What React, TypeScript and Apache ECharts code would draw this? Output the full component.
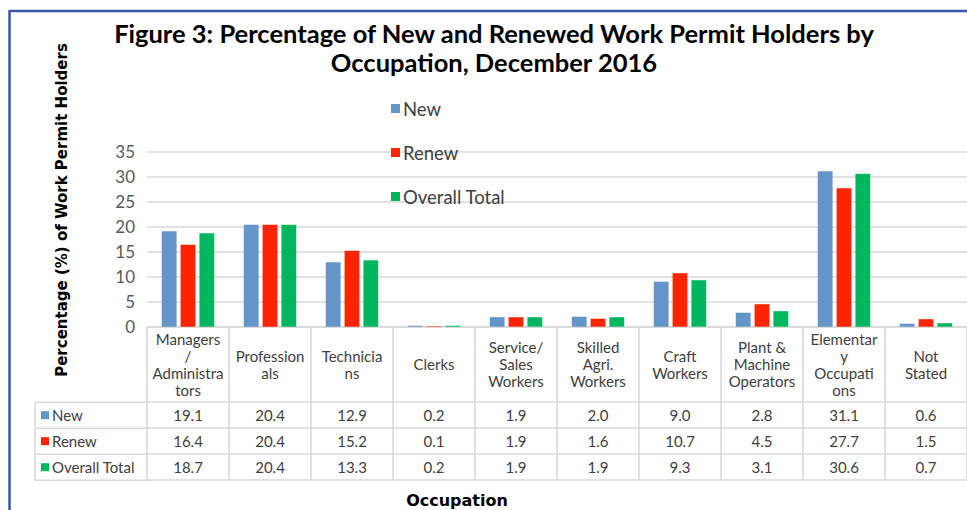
import React, { useEffect, useRef } from "react";
import * as echarts from "echarts";

const CATEGORIES = [
  "Managers\n/\nAdministra\ntors",
  "Profession\nals",
  "Technicia\nns",
  "Clerks",
  "Service/\nSales\nWorkers",
  "Skilled\nAgri.\nWorkers",
  "Craft\nWorkers",
  "Plant &\nMachine\nOperators",
  "Elementar\ny\nOccupati\nons",
  "Not\nStated",
];
const NEW = [19.1, 20.4, 12.9, 0.2, 1.9, 2.0, 9.0, 2.8, 31.1, 0.6];
const RENEW = [16.4, 20.4, 15.2, 0.1, 1.9, 1.6, 10.7, 4.5, 27.7, 1.5];
const OVERALL = [18.7, 20.4, 13.3, 0.2, 1.9, 1.9, 9.3, 3.1, 30.6, 0.7];
const SERIES_NAMES = ["New", "Renew", "Overall Total"];
const COLORS = ["#6495C9", "#FF2400", "#00B760"];
const Y_TICKS = [0, 5, 10, 15, 20, 25, 30, 35];

const FONT = "Lato, 'Open Sans', sans-serif";
const WIDE = "'DejaVu Sans', sans-serif";
const TXT = "#404040";
const LINE = "#D9D9D9";

export default function App() {
  const ref = useRef<HTMLDivElement>(null);
  useEffect(() => {
    if (!ref.current) return;
    const chart = echarts.init(ref.current, undefined, { renderer: "svg" });
    const rows = [NEW, RENEW, OVERALL];
    const gridTop = 151.7;
    const gridBottomY = 326.7;
    const rowH = 26;
    const headH = 75.5;

    const tableAxes: any[] = rows.map((vals, r) => ({
      type: "category",
      data: CATEGORIES,
      position: "bottom",
      offset: headH + r * rowH,
      axisLine: { show: true, lineStyle: { color: LINE, width: 1.5 } },
      axisTick: { show: true, length: rowH, lineStyle: { color: LINE, width: 1.5 } },
      axisLabel: {
        show: true,
        interval: 0,
        margin: rowH / 2,
        verticalAlign: "middle",
        fontFamily: FONT,
        fontSize: 15,
        color: TXT,
        formatter: (_v: string, i: number) => vals[i].toFixed(1),
      },
      splitLine: { show: false },
    }));
    tableAxes.push({
      type: "category",
      data: CATEGORIES,
      position: "bottom",
      offset: headH + 3 * rowH,
      axisLine: { show: true, lineStyle: { color: LINE, width: 1.5 } },
      axisTick: { show: false },
      axisLabel: { show: false },
    });

    const headerY = gridBottomY + headH;
    const graphics: any[] = [
      { type: "line", shape: { x1: 9.5, y1: 11, x2: 967, y2: 11 }, style: { stroke: "#3A56A8", lineWidth: 2.5 } },
      { type: "line", shape: { x1: 9.5, y1: 10, x2: 9.5, y2: 510 }, style: { stroke: "#3A56A8", lineWidth: 2.5 } },
      { type: "line", shape: { x1: 35, y1: headerY, x2: 147, y2: headerY }, style: { stroke: LINE, lineWidth: 1.5 } },
      { type: "line", shape: { x1: 35, y1: headerY + rowH * 3, x2: 147, y2: headerY + rowH * 3 }, style: { stroke: LINE, lineWidth: 1.5 } },
      { type: "line", shape: { x1: 35, y1: headerY + rowH, x2: 147, y2: headerY + rowH }, style: { stroke: LINE, lineWidth: 1.5 } },
      { type: "line", shape: { x1: 35, y1: headerY + rowH * 2, x2: 147, y2: headerY + rowH * 2 }, style: { stroke: LINE, lineWidth: 1.5 } },
      { type: "line", shape: { x1: 35, y1: headerY, x2: 35, y2: headerY + rowH * 3 }, style: { stroke: LINE, lineWidth: 1.5 } },
      {
        type: "text",
        x: 457,
        y: 500,
        style: { text: "Occupation", fontFamily: WIDE, fontWeight: "bold", fontSize: 16, fill: "#000", align: "center", verticalAlign: "middle" },
      },
      {
        type: "text",
        x: 62,
        y: 210,
        rotation: Math.PI / 2,
        style: {
          text: "Percentage (%) of Work Permit Holders",
          fontFamily: WIDE,
          fontWeight: "bold",
          fontSize: 15,
          fill: "#000",
          align: "center",
          verticalAlign: "middle",
        },
      },
    ];
    SERIES_NAMES.forEach((n, r) => {
      const cy = headerY + rowH * r + rowH / 2;
      graphics.push({ type: "rect", shape: { x: 41, y: cy - 4, width: 8, height: 8 }, style: { fill: COLORS[r] } });
      graphics.push({
        type: "text",
        x: 52,
        y: cy,
        style: { text: n, fontFamily: FONT, fontSize: 15, fill: TXT, align: "left", verticalAlign: "middle" },
      });
    });

    chart.setOption({
      animation: false,
      backgroundColor: "#fff",
      title: {
        text: "Figure 3: Percentage of New and Renewed Work Permit Holders by\nOccupation, December 2016",
        left: 494,
        textAlign: "center",
        top: 18.5,
        padding: 0,
        textStyle: { fontFamily: FONT, fontWeight: "bold", fontSize: 25.5, color: "#000", lineHeight: 29 },
      },
      legend: {
        orient: "vertical",
        left: 386,
        top: 94,
        itemWidth: 9,
        itemHeight: 9,
        itemGap: 25,
        icon: "rect",
        data: SERIES_NAMES,
        textStyle: { fontFamily: FONT, fontSize: 18.5, color: TXT, lineHeight: 19, padding: [0, 0, 0, -2] },
      },
      grid: { left: 147, top: gridTop, width: 821, height: gridBottomY - gridTop, containLabel: false },
      xAxis: [
        {
          type: "category",
          data: CATEGORIES,
          position: "bottom",
          axisLine: { show: true, lineStyle: { color: LINE, width: 1.5 } },
          axisTick: { show: true, length: headH, lineStyle: { color: LINE, width: 1.5 } },
          axisLabel: {
            interval: 0,
            margin: headH / 2,
            verticalAlign: "middle",
            fontFamily: FONT,
            fontSize: 15,
            lineHeight: 17,
            color: TXT,
          },
        },
        ...tableAxes,
      ],
      yAxis: {
        type: "value",
        min: 0,
        max: 35,
        interval: 5,
        axisLine: { show: false },
        axisTick: { show: false },
        axisLabel: {
          margin: 12,
          fontFamily: FONT,
          fontSize: 17,
          color: "#595959",
          formatter: (v: number) => (Y_TICKS.includes(v) ? String(v) : ""),
        },
        splitLine: { lineStyle: { color: LINE, width: 1.5 } },
      },
      series: [NEW, RENEW, OVERALL].map((d, i) => ({
        type: "bar",
        name: SERIES_NAMES[i],
        data: d,
        xAxisIndex: 0,
        itemStyle: { color: COLORS[i] },
        barGap: "27%",
        barCategoryGap: "36%",
      })),
      graphic: graphics,
    });
    return () => chart.dispose();
  }, []);
  return <div ref={ref} style={{ width: 967, height: 510, position: "absolute", left: 0, top: 0 }} />;
}
